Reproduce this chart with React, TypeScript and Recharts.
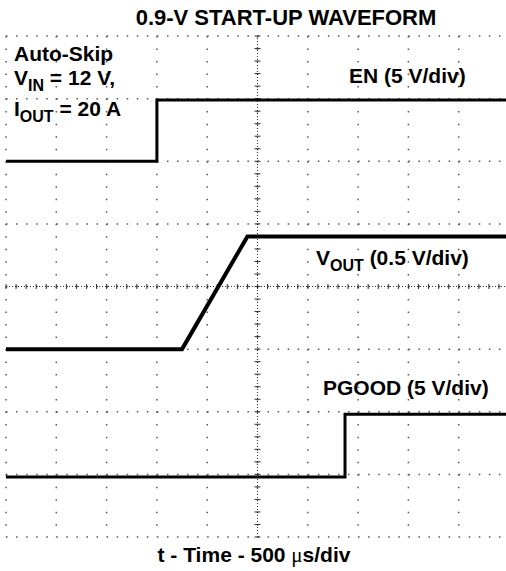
import React from "react";
import { LineChart, Line, XAxis, YAxis, CartesianGrid, ReferenceLine } from "recharts";

// time in µs, 500 µs/div, 10 div
const enTime = [0, 1500, 1500, 5000];
const enVolts = [0, 0, 4.9, 4.9];
const voutTime = [0, 1750, 2400, 5000];
const voutVolts = [0, 0, 0.9, 0.9];
const pgTime = [0, 3370, 3370, 5000];
const pgVolts = [0, 0, 5, 5];

// channel scale (V/div) and ground position (div from bottom)
const EN_SCALE = 5;
const EN_GND = 6;
const VOUT_SCALE = 0.5;
const VOUT_GND = 3;
const PG_SCALE = 5;
const PG_GND = 0.96;

const majorX = [0, 500, 1000, 1500, 2000, 2500, 3000, 3500, 4000, 4500, 5000];
const majorY = [0, 1, 2, 3, 4, 5, 6, 7, 8];
const minorX = Array.from({ length: 51 }, (_, i) => i * 100);
const minorY = Array.from({ length: 41 }, (_, i) => Math.round(i * 2) / 10);

const toDiv = (t: number[], v: number[], scale: number, gnd: number) =>
  t.map((x, i) => ({ t: x, d: gnd + v[i] / scale }));

const enData = toDiv(enTime, enVolts, EN_SCALE, EN_GND);
const voutData = toDiv(voutTime, voutVolts, VOUT_SCALE, VOUT_GND);
const pgData = toDiv(pgTime, pgVolts, PG_SCALE, PG_GND);

const font = "'Liberation Sans', Arial, sans-serif";
const txt: React.CSSProperties = {
  position: "absolute",
  fontFamily: font,
  fontWeight: 700,
  fontSize: 21,
  lineHeight: "20px",
  color: "#000",
  whiteSpace: "nowrap",
};
const sub: React.CSSProperties = { fontSize: 16, position: "relative", top: 6 };

export default function App() {
  return (
    <div style={{ position: "absolute", left: 0, top: 0, width: 506, height: 571, overflow: "hidden", background: "#fff" }}>
      <LineChart width={520} height={571} margin={{ top: 36, right: 11, bottom: 34, left: 6 }}>
        <XAxis dataKey="t" type="number" domain={[0, 5000]} ticks={majorX} hide allowDataOverflow />
        <YAxis type="number" domain={[0, 8]} ticks={majorY} hide allowDataOverflow />
        <XAxis xAxisId="top" orientation="top" type="number" domain={[0, 5000]} ticks={minorX} height={0}
          mirror tick={false} tickSize={4} axisLine={{ stroke: "#000", strokeWidth: 1.5 }} tickLine={{ stroke: "#000" }} />
        <XAxis xAxisId="bot" orientation="bottom" type="number" domain={[0, 5000]} ticks={minorX} height={0}
          mirror tick={false} tickSize={4} axisLine={{ stroke: "#000", strokeWidth: 1.5 }} tickLine={{ stroke: "#000" }} />
        <YAxis yAxisId="left" type="number" domain={[0, 8]} ticks={minorY} width={0}
          mirror tick={false} tickSize={2} axisLine={{ stroke: "#000", strokeWidth: 1.5 }} tickLine={{ stroke: "#555" }} />
        <CartesianGrid vertical={false} stroke="#555" strokeWidth={1.5} strokeDasharray="1.5 8.56" />
        <CartesianGrid horizontal={false} stroke="#555" strokeWidth={1.5} strokeDasharray="1.5 11.02" />
        <ReferenceLine x={2500} stroke="#333" strokeDasharray="1 2" />
        <ReferenceLine y={4} stroke="#333" strokeDasharray="1 2" />
        {minorX.map((t) => (
          <ReferenceLine key={"cx" + t} segment={[{ x: t, y: 3.96 }, { x: t, y: 4.04 }]} stroke="#333" />
        ))}
        {minorY.map((v) => (
          <ReferenceLine key={"cy" + v} segment={[{ x: 2470, y: v }, { x: 2530, y: v }]} stroke="#333" />
        ))}
        <Line data={enData} dataKey="d" type="linear" stroke="#000" strokeWidth={3} dot={false} isAnimationActive={false} />
        <Line data={voutData} dataKey="d" type="linear" stroke="#000" strokeWidth={4} dot={false} isAnimationActive={false} />
        <Line data={pgData} dataKey="d" type="linear" stroke="#000" strokeWidth={3} dot={false} isAnimationActive={false} />
      </LineChart>

      <div style={{ ...txt, left: 86, width: 400, textAlign: "center", top: 8, fontSize: 22 }}>0.9-V START-UP WAVEFORM</div>
      <div style={{ ...txt, left: 54, width: 400, textAlign: "center", top: 545 }}>
        t - Time - 500 <span style={{ fontFamily: "'Liberation Serif', serif", fontWeight: 400 }}>μ</span>s/div
      </div>

      <div style={{ ...txt, left: 14, top: 44 }}>Auto-Skip</div>
      <div style={{ ...txt, left: 14, top: 68 }}>V<span style={sub}>IN</span> = 12 V,</div>
      <div style={{ ...txt, left: 14, top: 99 }}>I<span style={sub}>OUT</span> = 20 A</div>

      <div style={{ ...txt, left: 349, top: 66 }}>EN (5 V/div)</div>
      <div style={{ ...txt, left: 316, top: 248 }}>V<span style={sub}>OUT</span> (0.5 V/div)</div>
      <div style={{ ...txt, left: 323, top: 378 }}>PGOOD (5 V/div)</div>
    </div>
  );
}
